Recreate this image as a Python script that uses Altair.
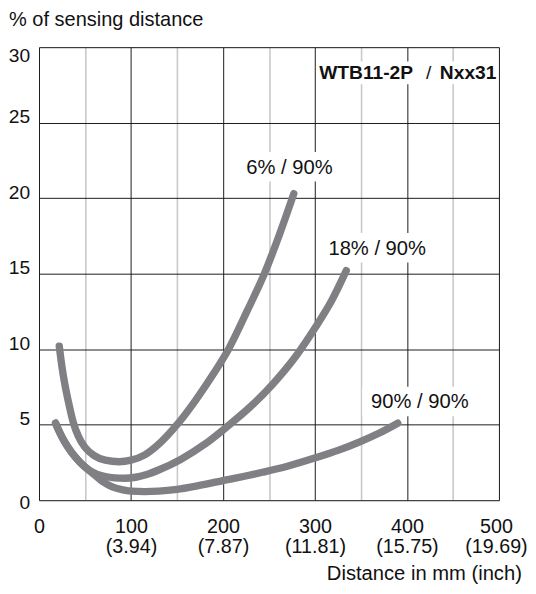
import altair as alt
import pandas as pd

FONT = "Liberation Sans"
GREY = "#808084"

# ---- curve data ----
x_6 = [22, 25, 28, 32, 37, 43, 50, 60, 72, 87, 100, 115, 130, 150, 170, 190, 206, 226, 245, 262, 277]
y_6 = [10.2, 8.8, 7.7, 6.5, 5.2, 4.2, 3.5, 2.95, 2.65, 2.55, 2.65, 3.0, 3.7, 5.0, 6.6, 8.4, 10.0, 12.5, 15.0, 17.7, 20.3]

x_18 = [18, 22, 27, 35, 44, 53, 62, 72, 82, 93, 105, 118, 130, 154, 180, 205, 230, 255, 280, 300, 318, 334]
y_18 = [5.1, 4.55, 3.95, 3.2, 2.55, 2.05, 1.75, 1.57, 1.48, 1.45, 1.52, 1.72, 2.0, 2.7, 3.7, 4.9, 6.2, 7.75, 9.6, 11.4, 13.2, 15.2]

x_90 = [18, 22, 27, 35, 44, 53, 62, 70, 79, 90, 100, 115, 130, 150, 172, 200, 243, 270, 300, 325, 350, 370, 390]
y_90 = [5.1, 4.55, 3.95, 3.2, 2.55, 2.05, 1.6, 1.2, 0.9, 0.7, 0.6, 0.57, 0.6, 0.72, 0.95, 1.3, 1.85, 2.25, 2.8, 3.3, 3.9, 4.45, 5.1]

curve_names = ["6% / 90%", "18% / 90%", "90% / 90%"]
# label anchors (left edge, baseline) in data units
label_x = [225.4, 314.6, 361.0]
label_y = [21.63, 16.26, 6.08]

product_bold_1 = "WTB11-2P"
product_sep = "/"
product_bold_2 = "Nxx31"
product_x = 304.6
product_y = 27.87

# ---- axes ----
x_grid = [0, 50, 100, 150, 200, 250, 300, 350, 400, 450, 500]
x_major = [0, 100, 200, 300, 400, 500]
x_inch = ["", "(3.94)", "(7.87)", "(11.81)", "(15.75)", "(19.69)"]
y_ticks = [0, 5, 10, 15, 20, 25, 30]

parts = []
for v, inch in zip(x_major, x_inch):
    if inch:
        parts.append(f"datum.value == {v} ? ['{v}', '{inch}']")
    else:
        parts.append(f"datum.value == {v} ? '{v}'")
x_label_expr = " : ".join(parts) + " : ''"

rows = []
for name, xs, ys in zip(curve_names, [x_6, x_18, x_90], [y_6, y_18, y_90]):
    for i, (a, b) in enumerate(zip(xs, ys)):
        rows.append({"curve": name, "x": a, "y": b, "order": i})
curves = pd.DataFrame(rows)

lab_rows = []
for t, lx, ly in zip(curve_names, label_x, label_y):
    w = len(t) * 11.0
    lab_rows.append({"text": t, "x": lx, "y": ly,
                     "box": f"M-9,-22H{w + 9:.1f}V8H-9Z"})
labels = pd.DataFrame(lab_rows)

prod = pd.DataFrame([{"x": product_x, "y": product_y,
                      "box": "M-2.5,-18H181V5H-2.5Z"}])

xscale = alt.Scale(domain=[0, 500], nice=False, zero=False)
yscale = alt.Scale(domain=[0, 30], nice=False, zero=False)

x_axis = alt.Axis(
    values=x_grid, labelExpr=x_label_expr, domain=False, ticks=False,
    labelPadding=16.3, labelFontSize=20, labelLineHeight=20.7,
    labelColor="#111", labelFont=FONT, labelFlush=False, labelOverlap=False,
    labelOffset={"condition": {"test": "datum.value == 500", "value": -3}, "value": 0},
    gridColor={"condition": {"test": "datum.value % 100 == 0", "value": "#1a1a1a"}, "value": "#c9c9c9"},
    gridWidth={"condition": {"test": "datum.value % 100 == 0", "value": 1}, "value": 1.6},
    gridOpacity=1,
    title="Distance in mm (inch)", titleFont=FONT, titleFontSize=20.5,
    titleFontWeight="normal", titleColor="#111",
    titleX=489.8, titleY=80.7, titleAlign="right", titleBaseline="alphabetic",
)
y_axis = alt.Axis(
    values=y_ticks, domain=False, ticks=False,
    labelPadding=9.5, labelFontSize=19.5, labelColor="#111", labelFont=FONT,
    labelAlign="right", labelFlush=False, labelOverlap=False,
    labelBaseline={"condition": [{"test": "datum.value == 30", "value": "top"},
                                 {"test": "datum.value == 0", "value": "middle"}],
                   "value": "alphabetic"},
    labelOffset={"condition": {"test": "datum.value == 0", "value": 2}, "value": 0},
    gridColor="#1a1a1a", gridWidth=1, gridOpacity=1,
    title="% of sensing distance", titleFont=FONT, titleFontSize=20.3,
    titleFontWeight="normal", titleColor="#111", titleAngle=0,
    titleX=-31, titleY=-22.3, titleAlign="left", titleBaseline="alphabetic",
)

lines = alt.Chart(curves).mark_line(
    strokeWidth=7.5, strokeCap="round", strokeJoin="round",
    interpolate="monotone", color=GREY,
).encode(
    x=alt.X("x:Q", scale=xscale, axis=x_axis),
    y=alt.Y("y:Q", scale=yscale, axis=y_axis),
    detail="curve:N",
    order="order:Q",
)

boxes = alt.Chart(labels).mark_point(
    filled=True, fill="white", opacity=1, strokeWidth=0,
).encode(
    x=alt.X("x:Q", scale=xscale), y=alt.Y("y:Q", scale=yscale),
    shape=alt.Shape("box:N", scale=None), size=alt.value(4),
)

texts = alt.Chart(labels).mark_text(
    align="left", baseline="alphabetic", font=FONT, fontSize=20.5, color="#111",
).encode(
    x=alt.X("x:Q", scale=xscale), y=alt.Y("y:Q", scale=yscale), text="text:N",
)

pbox = alt.Chart(prod).mark_point(
    filled=True, fill="white", opacity=1, strokeWidth=0,
).encode(
    x=alt.X("x:Q", scale=xscale), y=alt.Y("y:Q", scale=yscale),
    shape=alt.Shape("box:N", scale=None), size=alt.value(4),
)


def ptext(txt, dx, weight):
    return alt.Chart(prod).mark_text(
        align="left", baseline="alphabetic", font=FONT, fontSize=19.5,
        fontWeight=weight, color="#111", dx=dx, text=txt,
    ).encode(x=alt.X("x:Q", scale=xscale), y=alt.Y("y:Q", scale=yscale))


chart = alt.layer(
    lines, boxes, texts, pbox,
    ptext(product_bold_1, 0, "bold"),
    ptext(product_sep, 108.5, "normal"),
    ptext(product_bold_2, 122.5, "bold"),
).properties(
    width=467, height=460,
    autosize=alt.AutoSizeParams(type="none"),
    padding={"left": 31.5, "top": 35.3, "right": 29.5, "bottom": 85.7},
    background="white",
).configure_view(
    stroke="#1a1a1a", strokeWidth=1,
).configure(font=FONT)

chart.save("out.html", embed_options={"renderer": "svg", "actions": False})
